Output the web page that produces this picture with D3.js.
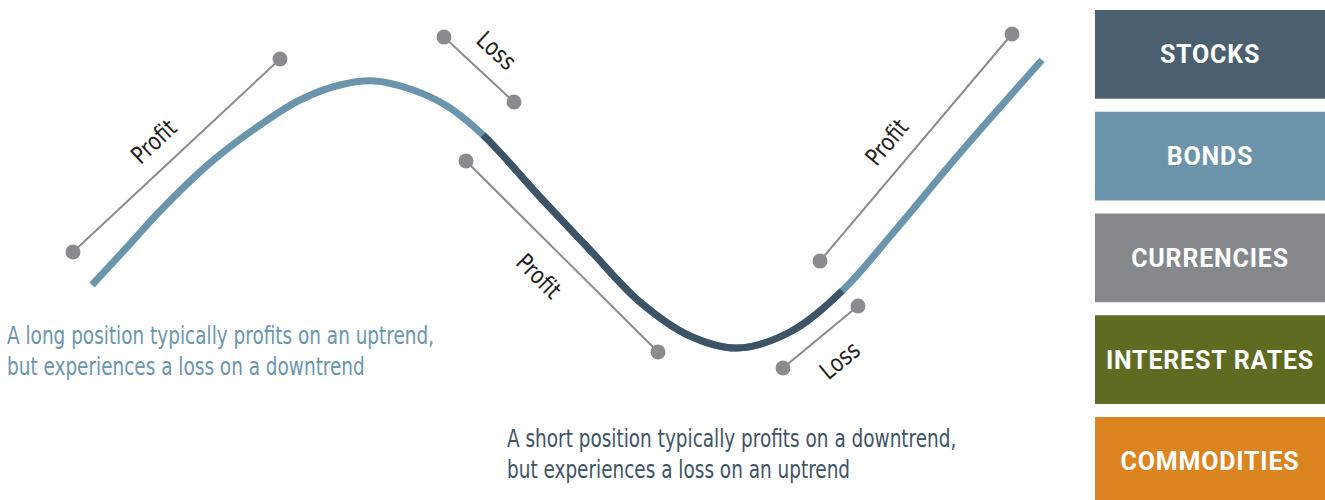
<!DOCTYPE html>
<html>
<head>
<meta charset="utf-8">
<script src="https://cdn.jsdelivr.net/npm/d3@7"></script>
<style>
	body { margin: 0; background: #fff; }
	svg { display: block; }
</style>
</head>
<body>
<div id="chart"></div>
<script>
// price path (time 0-100, price 0-100)
const curveTime = [3.2, 7, 10, 15, 20, 24, 28, 31.5, 35.3, 38.7, 42.3, 48, 53, 58, 63, 67.7, 73, 78.2, 83.3, 90, 98.2];
const curvePrice = [28.75, 39, 47.25, 59.25, 68.75, 75, 78.75, 79.75, 77.5, 73.5, 66.25, 50.75, 37.5, 24.5, 16, 13, 17, 27.25, 41.75, 61.75, 85];

// stretch of the path drawn as the short position
const shortFrom = 42.3;
const shortTo = 78.2;

const calloutText = ['Profit', 'Loss', 'Profit', 'Profit', 'Loss'];
const calloutFromTime = [1.3, 38.4, 40.6, 76, 72.3];
const calloutFromPrice = [37, 90.75, 59.75, 34.75, 8];
const calloutToTime = [22, 45.4, 59.8, 95.2, 79.8];
const calloutToPrice = [85.25, 74.5, 12, 91.5, 23.5];
const calloutSide = [1, 1, -1, 1, -1];
const calloutLabelAt = [0.475, 0.5, 0.49, 0.45, 0.5];

const assetClasses = ['STOCKS', 'BONDS', 'CURRENCIES', 'INTEREST RATES', 'COMMODITIES'];
const assetColors = ['#4a6070', '#6b93aa', '#86888c', '#5e6b20', '#dc841f'];

const captionLong = ['A long position typically profits on an uptrend,', 'but experiences a loss on a downtrend'];
const captionShort = ['A short position typically profits on a downtrend,', 'but experiences a loss on an uptrend'];

const width = 1325;
const height = 500;
const longColor = '#6b95ad';
const shortColor = '#3d5366';
const greyColor = '#8a8b8e';
const narrowFont = '"Liberation Sans Narrow", "DejaVu Sans Condensed", "Roboto Condensed", sans-serif';

const svg = d3
	.select('#chart')
	.append('svg')
	.attr('width', width)
	.attr('height', height);

const x = d3.scaleLinear().domain([0, 100]).range([60, 1060]);
const y = d3.scaleLinear().domain([0, 100]).range([400, 0]);

// callout lines
const callouts = calloutText.map((label, i) => ({
	label,
	x1: x(calloutFromTime[i]),
	y1: y(calloutFromPrice[i]),
	x2: x(calloutToTime[i]),
	y2: y(calloutToPrice[i]),
	side: calloutSide[i],
	at: calloutLabelAt[i],
}));

const calloutGroup = svg
	.selectAll('g.callout')
	.data(callouts)
	.join('g')
	.attr('class', 'callout');

calloutGroup
	.append('line')
	.attr('x1', (d) => d.x1)
	.attr('y1', (d) => d.y1)
	.attr('x2', (d) => d.x2)
	.attr('y2', (d) => d.y2)
	.attr('stroke', greyColor)
	.attr('stroke-width', 2);

calloutGroup
	.selectAll('circle')
	.data((d) => [[d.x1, d.y1], [d.x2, d.y2]])
	.join('circle')
	.attr('cx', (d) => d[0])
	.attr('cy', (d) => d[1])
	.attr('r', 7.5)
	.attr('fill', greyColor);

calloutGroup
	.append('text')
	.attr('transform', (d) => {
		const angle = Math.atan2(d.y2 - d.y1, d.x2 - d.x1);
		const gap = d.side > 0 ? 26 : 30;
		const cx = d.x1 + (d.x2 - d.x1) * d.at + Math.sin(angle) * gap * d.side;
		const cy = d.y1 + (d.y2 - d.y1) * d.at - Math.cos(angle) * gap * d.side;
		return `translate(${cx},${cy}) rotate(${(angle * 180) / Math.PI}) scale(0.92,1)`;
	})
	.attr('text-anchor', 'middle')
	.attr('dy', '0.36em')
	.style('font-family', narrowFont)
	.style('font-size', '24px')
	.attr('fill', '#231f20')
	.text((d) => d.label);

// price path
const curvePoints = curveTime.map((t, i) => ({ t, p: curvePrice[i] }));

const trendLine = d3
	.line()
	.x((d) => x(d.t))
	.y((d) => y(d.p))
	.curve(d3.curveCatmullRom.alpha(0.5));

const longPath = svg
	.append('path')
	.datum(curvePoints)
	.attr('d', trendLine)
	.attr('fill', 'none')
	.attr('stroke', longColor)
	.attr('stroke-width', 7);

const pathNode = longPath.node();
const totalLength = pathNode.getTotalLength();

function lengthAtX(px) {
	let lo = 0;
	let hi = totalLength;
	for (let k = 0; k < 40; k++) {
		const mid = (lo + hi) / 2;
		if (pathNode.getPointAtLength(mid).x < px) lo = mid;
		else hi = mid;
	}
	return lo;
}

const startLen = lengthAtX(x(shortFrom));
const endLen = lengthAtX(x(shortTo));

svg
	.append('path')
	.datum(curvePoints)
	.attr('d', trendLine)
	.attr('fill', 'none')
	.attr('stroke', shortColor)
	.attr('stroke-width', 7)
	.attr('stroke-dasharray', `0 ${startLen} ${endLen - startLen} ${totalLength}`);

// captions, squeezed to match the condensed face
function caption(lines, left, top, color) {
	svg
		.append('text')
		.attr('transform', `translate(${left},${top}) scale(0.855,1)`)
		.style('font-family', narrowFont)
		.style('font-size', '24px')
		.attr('fill', color)
		.selectAll('tspan')
		.data(lines)
		.join('tspan')
		.attr('x', 0)
		.attr('y', (d, i) => i * 31)
		.text((d) => d);
}

caption(captionLong, 7, 344, longColor);
caption(captionShort, 507, 447, shortColor);

// asset class boxes
const boxScale = d3
	.scaleBand()
	.domain(assetClasses)
	.range([10, 505.7])
	.paddingInner(0.128)
	.paddingOuter(0);

const boxGroup = svg
	.selectAll('g.asset')
	.data(assetClasses)
	.join('g')
	.attr('class', 'asset');

boxGroup
	.append('rect')
	.attr('x', 1095)
	.attr('y', (d) => boxScale(d))
	.attr('width', 230)
	.attr('height', boxScale.bandwidth())
	.attr('fill', (d, i) => assetColors[i]);

boxGroup
	.append('text')
	.attr('x', 1095 + 115)
	.attr('y', (d) => boxScale(d) + boxScale.bandwidth() / 2)
	.attr('dy', '0.36em')
	.attr('text-anchor', 'middle')
	.style('font-family', 'Roboto, sans-serif')
	.style('font-weight', 'bold')
	.style('font-size', '25px')
	.style('letter-spacing', '0.8px')
	.attr('fill', '#fff')
	.text((d) => d);
</script>
</body>
</html>
